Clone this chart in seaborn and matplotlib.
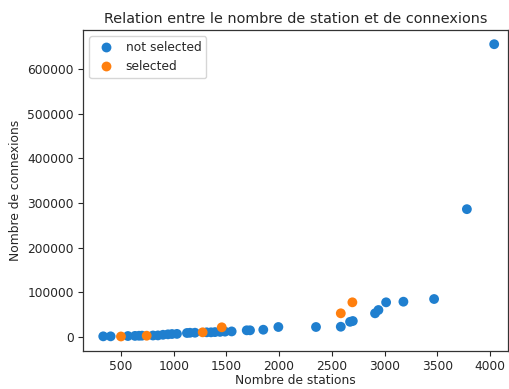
import matplotlib
matplotlib.use("Agg")
import matplotlib.pyplot as plt
import numpy as np
import pandas as pd
import seaborn as sns

# Cities: number of stations vs number of connections
stations_not_selected = [332, 402, 566, 633, 671, 699, 804, 851, 899, 946, 984, 1031,
                         1126, 1155, 1202, 1313, 1354, 1392, 1440, 1487, 1550, 1693,
                         1724, 1850, 1993, 2350, 2585, 2673, 2699, 2910, 2942, 3015,
                         3179, 3470, 3781, 4040]
connexions_not_selected = [1500, 1500, 2200, 2500, 2800, 3000, 3400, 3600, 5000, 6000,
                           6700, 7000, 9000, 9500, 9600, 10500, 10500, 11000, 11500,
                           12000, 12500, 15000, 15000, 16300, 22400, 22400, 23000,
                           34000, 35800, 53000, 60400, 77600, 79000, 85000, 286000,
                           655000]
stations_selected = [500, 744, 1275, 1456, 2585, 2695]
connexions_selected = [1200, 2900, 10500, 21700, 53000, 77600]
groups = ["not selected", "selected"]

df = pd.DataFrame({
    "stations": stations_not_selected + stations_selected,
    "connexions": connexions_not_selected + connexions_selected,
    "groupe": [groups[0]] * len(stations_not_selected) + [groups[1]] * len(stations_selected),
})

sns.set_style("ticks")
plt.rcParams["font.family"] = ["DejaVu Sans"]

fig = plt.figure(figsize=(5.09, 3.89), dpi=100)
ax = fig.add_axes([83 / 509, 1 - 351 / 389, (508 - 83) / 509, (351 - 30) / 389])

sns.scatterplot(data=df, x="stations", y="connexions", hue="groupe",
                hue_order=groups, palette=["#1f7fcf", "#ff7f0e"],
                s=50, linewidth=0, ax=ax)

ax.set_xlim(140, 4171)
ax.set_ylim(-31300, 686800)
ax.set_xticks([500, 1000, 1500, 2000, 2500, 3000, 3500, 4000])
ax.set_yticks([0, 100000, 200000, 300000, 400000, 500000, 600000])
ax.tick_params(labelsize=8.8, length=3.5, pad=3)
ax.set_xlabel("Nombre de stations", fontsize=8.8, labelpad=1)
ax.set_ylabel("Nombre de connexions", fontsize=8.8, labelpad=4)
ax.set_title("Relation entre le nombre de station et de connexions", fontsize=10.4, pad=5)
for sp in ax.spines.values():
    sp.set_visible(True)
    sp.set_linewidth(0.9)
    sp.set_color("#333333")

leg = ax.legend(loc="upper left", fontsize=8.8, title=None, frameon=True,
                markerscale=1.0, handletextpad=0.6, borderpad=0.4)
leg.get_frame().set_edgecolor("#cccccc")

fig.savefig("out.png", dpi=100)
